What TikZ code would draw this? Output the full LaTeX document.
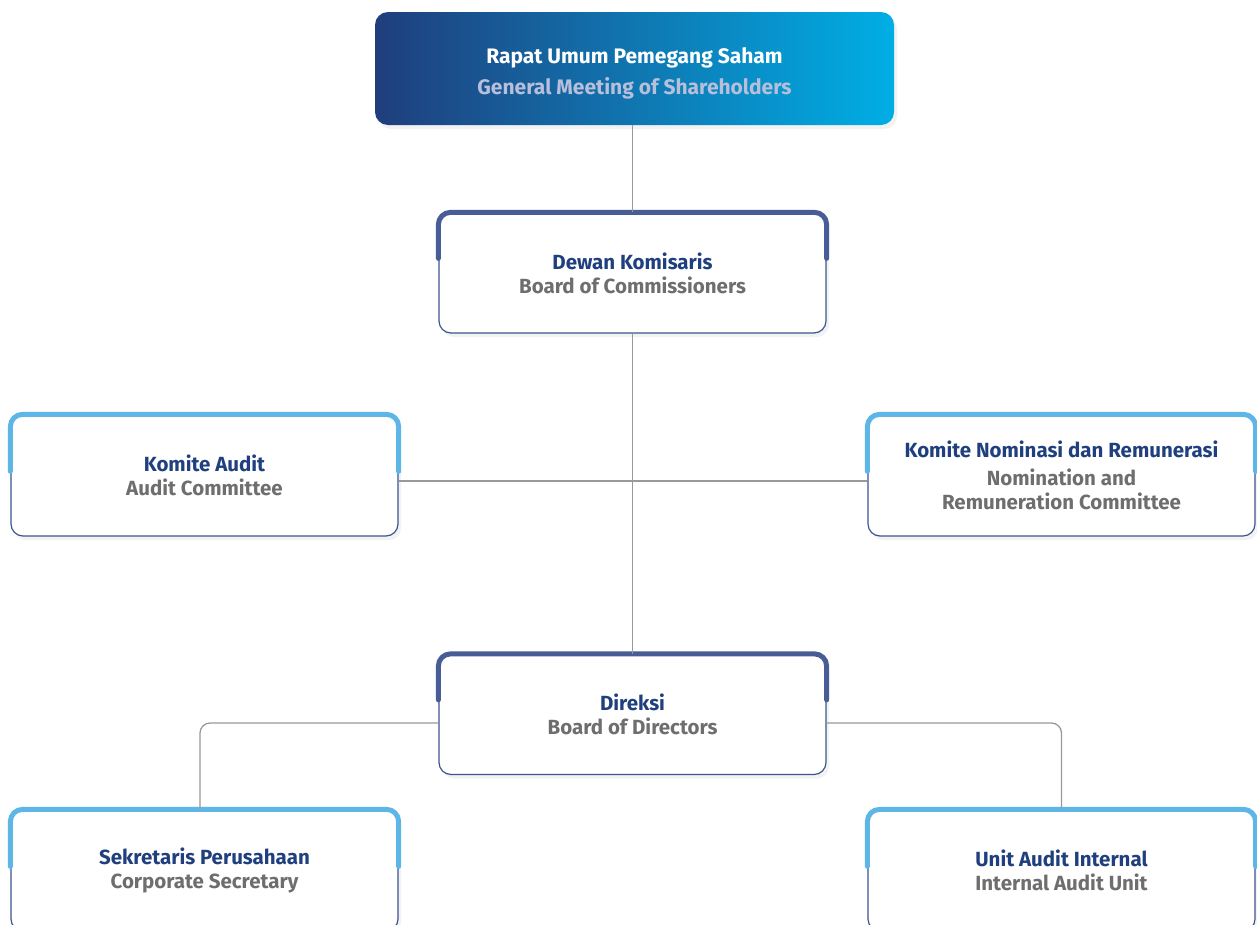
\documentclass[tikz,border=0pt]{standalone}
\usepackage{fontspec}
\setmainfont{Fira Sans}
\usepackage{tikz}
\usetikzlibrary{positioning,shadows}
\definecolor{gradLeft}{RGB}{31,62,124}
\definecolor{gradRight}{RGB}{0,174,229}
\definecolor{titleLight}{RGB}{184,191,218}
\definecolor{titleBlue}{RGB}{31,63,126}
\definecolor{subGrey}{RGB}{110,110,110}
\definecolor{boxBorder}{RGB}{60,84,145}
\definecolor{boardBar}{RGB}{72,93,150}
\definecolor{committeeBar}{RGB}{93,182,230}
\definecolor{linkColor}{RGB}{153,153,153}
\tikzstyle{chart} = [x = 1pt, y = -1pt]
\tikzstyle{softShadow} = [drop shadow={opacity=0.10, shadow xshift=3pt, shadow yshift=-4pt}]
\tikzstyle{unitStyle} = [draw=boxBorder, line width=1.2pt, fill=white, text=subGrey, rounded corners=12pt, minimum width=387pt, minimum height=120pt, align=center, softShadow, font=\fontsize{20.5}{24}\selectfont\bfseries]
\tikzstyle{rupsStyle} = [rounded corners=13pt, left color=gradLeft, right color=gradRight, text=titleLight, minimum width=519pt, minimum height=113pt, align=center, softShadow, font=\fontsize{21}{31}\selectfont\bfseries]
\tikzstyle{barStyle} = [line width=5pt, line cap=round, rounded corners=12pt]
\tikzstyle{linkStyle} = [color=linkColor, line width=1.3pt]
\newcommand{\unitText}[2]{\textcolor{titleBlue}{#1}\\#2}
\newcommand{\topBar}[3]{\draw [barStyle, color=#2] ([yshift=-#3pt]#1.north west) -- (#1.north west) -- (#1.north east) -- ([yshift=-#3pt]#1.north east);}
\newcommand{\boardBox}[4]{
  \node [unitStyle] (#1) at (#2) {\unitText{#3}{#4}};
  \topBar{#1}{boardBar}{46}
}
\newcommand{\committeeBox}[4]{
  \node [unitStyle, minimum height=121pt] (#1) at (#2) {\unitText{#3}{#4}};
  \topBar{#1}{committeeBar}{57}
}

\begin{document}
\begin{tikzpicture}[chart]
  \clip (0,0) rectangle (1257,924);
  \fill [white] (0,0) rectangle (1257,924);

  \node [rupsStyle] (rups) at (634.5,68.5) {\rule{0pt}{26pt}\textcolor{white}{Rapat Umum Pemegang Saham}\\General Meeting of Shareholders};

  \boardBox{dk}{632.5,273}{Dewan Komisaris}{Board of Commissioners}
  \committeeBox{ka}{204.5,475.5}{Komite Audit}{Audit Committee}
  \committeeBox{knr}{1061.5,475.5}{Komite Nominasi dan Remunerasi}{\rule{0pt}{27pt}Nomination and\\Remuneration Committee}
  \boardBox{dir}{632.5,714.5}{Direksi}{Board of Directors}
  \committeeBox{sp}{204.5,870.5}{Sekretaris Perusahaan}{Corporate Secretary}
  \committeeBox{ua}{1061.5,870.5}{Unit Audit Internal}{Internal Audit Unit}

  \draw [linkStyle] (rups.south -| dk.north) -- (dk.north);
  \draw [linkStyle] (dk) -- (dir);
  \draw [linkStyle] ([yshift=-5.5pt]ka.east) -- ([yshift=-5.5pt]knr.west);
  \draw [linkStyle, rounded corners=10pt] ([yshift=-8.5pt]dir.west) -| ([xshift=-4.5pt]sp.north);
  \draw [linkStyle, rounded corners=10pt] ([yshift=-8.5pt]dir.east) -| (ua.north);
\end{tikzpicture}
\end{document}
